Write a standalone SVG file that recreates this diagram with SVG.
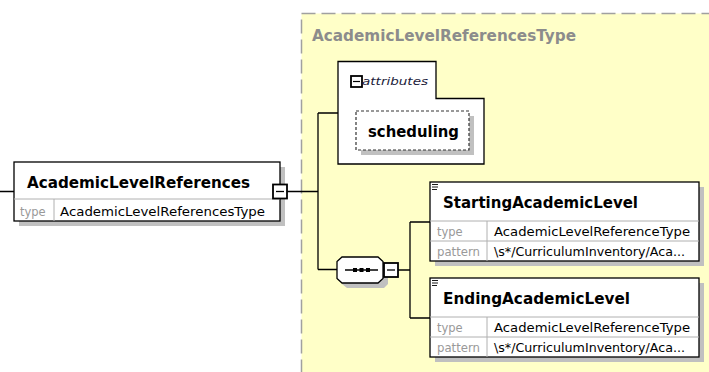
<svg xmlns="http://www.w3.org/2000/svg" width="709" height="372" viewBox="0 0 709 372">
<defs>
<style>
.bx{fill:#fff;stroke:#000;stroke-width:1.3}
.sh{fill:#c0c0c0}
.ln{fill:none;stroke:#000;stroke-width:1.3}
.dv{stroke:#b0b0b0;stroke-width:1}
.ic{stroke:#000;stroke-width:0.9;fill:none}
.nm{font-family:"DejaVu Sans",sans-serif;font-weight:bold;font-size:15px;fill:#000}
.lb{font-family:"DejaVu Sans",sans-serif;font-size:11.5px;fill:#999}
.vl{font-family:"DejaVu Sans",sans-serif;font-size:11.5px;fill:#000}
</style>
</defs>
<rect width="709" height="372" fill="#fff"/>
<g id="type-area">
<rect x="301.5" y="13.5" width="420" height="370" fill="#FFFFC8" stroke="#a0a0a0" stroke-width="1.5" stroke-dasharray="14,6"/>
<text x="312" y="41" font-family="DejaVu Sans,sans-serif" font-weight="bold" font-size="15" fill="#8c8c8c" textLength="264" lengthAdjust="spacingAndGlyphs">AcademicLevelReferencesType</text>
</g>
<g id="connectors">
<path class="ln" d="M0 191.5H14M287 191.5H318M318 113V269.5M318 113H338M318 269.5H337"/>
<path class="ln" d="M398 270H410M410 222V318M410 222H430M410 318H430"/>
</g>
<g id="AcademicLevelReferences">
<rect class="sh" x="19" y="167" width="266" height="59"/>
<rect class="bx" x="14" y="162" width="266" height="59"/>
<line class="dv" x1="14" y1="199" x2="280" y2="199"/>
<line class="dv" x1="54" y1="199" x2="54" y2="221"/>
<text class="nm" x="27" y="188" textLength="223" lengthAdjust="spacingAndGlyphs">AcademicLevelReferences</text>
<text class="lb" x="20" y="216">type</text>
<text class="vl" x="60" y="216" textLength="205" lengthAdjust="spacingAndGlyphs">AcademicLevelReferencesType</text>
<rect x="273" y="184.5" width="14" height="14" fill="#fff" stroke="#000" stroke-width="1.8"/>
<line x1="276" y1="191.5" x2="284" y2="191.5" stroke="#000" stroke-width="1.3"/>
</g>
<g id="attributes">
<path class="bx" d="M338 61.5H436V98.5H484V164H338Z"/>
<rect x="351" y="76" width="11" height="11" fill="#fff" stroke="#000" stroke-width="1.8"/>
<line x1="353" y1="81.5" x2="360" y2="81.5" stroke="#000" stroke-width="1.2"/>
<text x="362" y="85" font-family="DejaVu Sans,sans-serif" font-style="italic" font-size="11" fill="#1a1a3a" textLength="66" lengthAdjust="spacingAndGlyphs">attributes</text>
</g>
<g id="scheduling">
<rect class="sh" x="361" y="116" width="113" height="39"/>
<rect x="356" y="111" width="113" height="39" fill="#fff" stroke="#333" stroke-width="1.2" stroke-dasharray="3,2"/>
<text class="nm" x="368" y="137" textLength="91" lengthAdjust="spacingAndGlyphs">scheduling</text>
</g>
<g id="sequence">
<path class="sh" d="M347 262H384L388 266V284L384 288H347L342 284V266Z"/>
<path d="M342 257H378L383 261.5V278.5L378 283H342L337 278.5V261.5Z" fill="#fff" stroke="#000" stroke-width="1.3"/>
<line x1="345" y1="270" x2="378" y2="270" stroke="#000" stroke-width="1.3"/>
<rect x="353" y="268" width="4" height="4" fill="#000"/>
<rect x="359.5" y="268" width="4" height="4" fill="#000"/>
<rect x="366" y="268" width="4" height="4" fill="#000"/>
<rect x="384" y="263" width="14" height="14" fill="#fff" stroke="#000" stroke-width="1.8"/>
<line x1="387" y1="270" x2="395" y2="270" stroke="#000" stroke-width="1.3"/>
</g>
<g id="StartingAcademicLevel">
<rect class="sh" x="435" y="187" width="269" height="79"/>
<rect class="bx" x="430" y="182" width="269" height="79"/>
<line class="dv" x1="430" y1="221" x2="699" y2="221"/>
<line class="dv" x1="430" y1="241" x2="699" y2="241"/>
<line class="dv" x1="487" y1="221" x2="487" y2="261"/>
<path class="ic" d="M432 184.5H438M432 187H438M432 189.5H437"/>
<text class="nm" x="443" y="208" textLength="195" lengthAdjust="spacingAndGlyphs">StartingAcademicLevel</text>
<text class="lb" x="437" y="236">type</text>
<text class="vl" x="494" y="236" textLength="196" lengthAdjust="spacingAndGlyphs">AcademicLevelReferenceType</text>
<text class="lb" x="437" y="256" textLength="43" lengthAdjust="spacingAndGlyphs">pattern</text>
<text class="vl" x="494" y="256" textLength="191" lengthAdjust="spacingAndGlyphs">\s*/CurriculumInventory/Aca...</text>
</g>
<g id="EndingAcademicLevel">
<rect class="sh" x="435" y="283" width="269" height="79"/>
<rect class="bx" x="430" y="278" width="269" height="79"/>
<line class="dv" x1="430" y1="317" x2="699" y2="317"/>
<line class="dv" x1="430" y1="337" x2="699" y2="337"/>
<line class="dv" x1="487" y1="317" x2="487" y2="357"/>
<path class="ic" d="M432 280.5H438M432 283H438M432 285.5H437"/>
<text class="nm" x="443" y="304" textLength="187" lengthAdjust="spacingAndGlyphs">EndingAcademicLevel</text>
<text class="lb" x="437" y="332">type</text>
<text class="vl" x="494" y="332" textLength="196" lengthAdjust="spacingAndGlyphs">AcademicLevelReferenceType</text>
<text class="lb" x="437" y="352" textLength="43" lengthAdjust="spacingAndGlyphs">pattern</text>
<text class="vl" x="494" y="352" textLength="191" lengthAdjust="spacingAndGlyphs">\s*/CurriculumInventory/Aca...</text>
</g>
</svg>
